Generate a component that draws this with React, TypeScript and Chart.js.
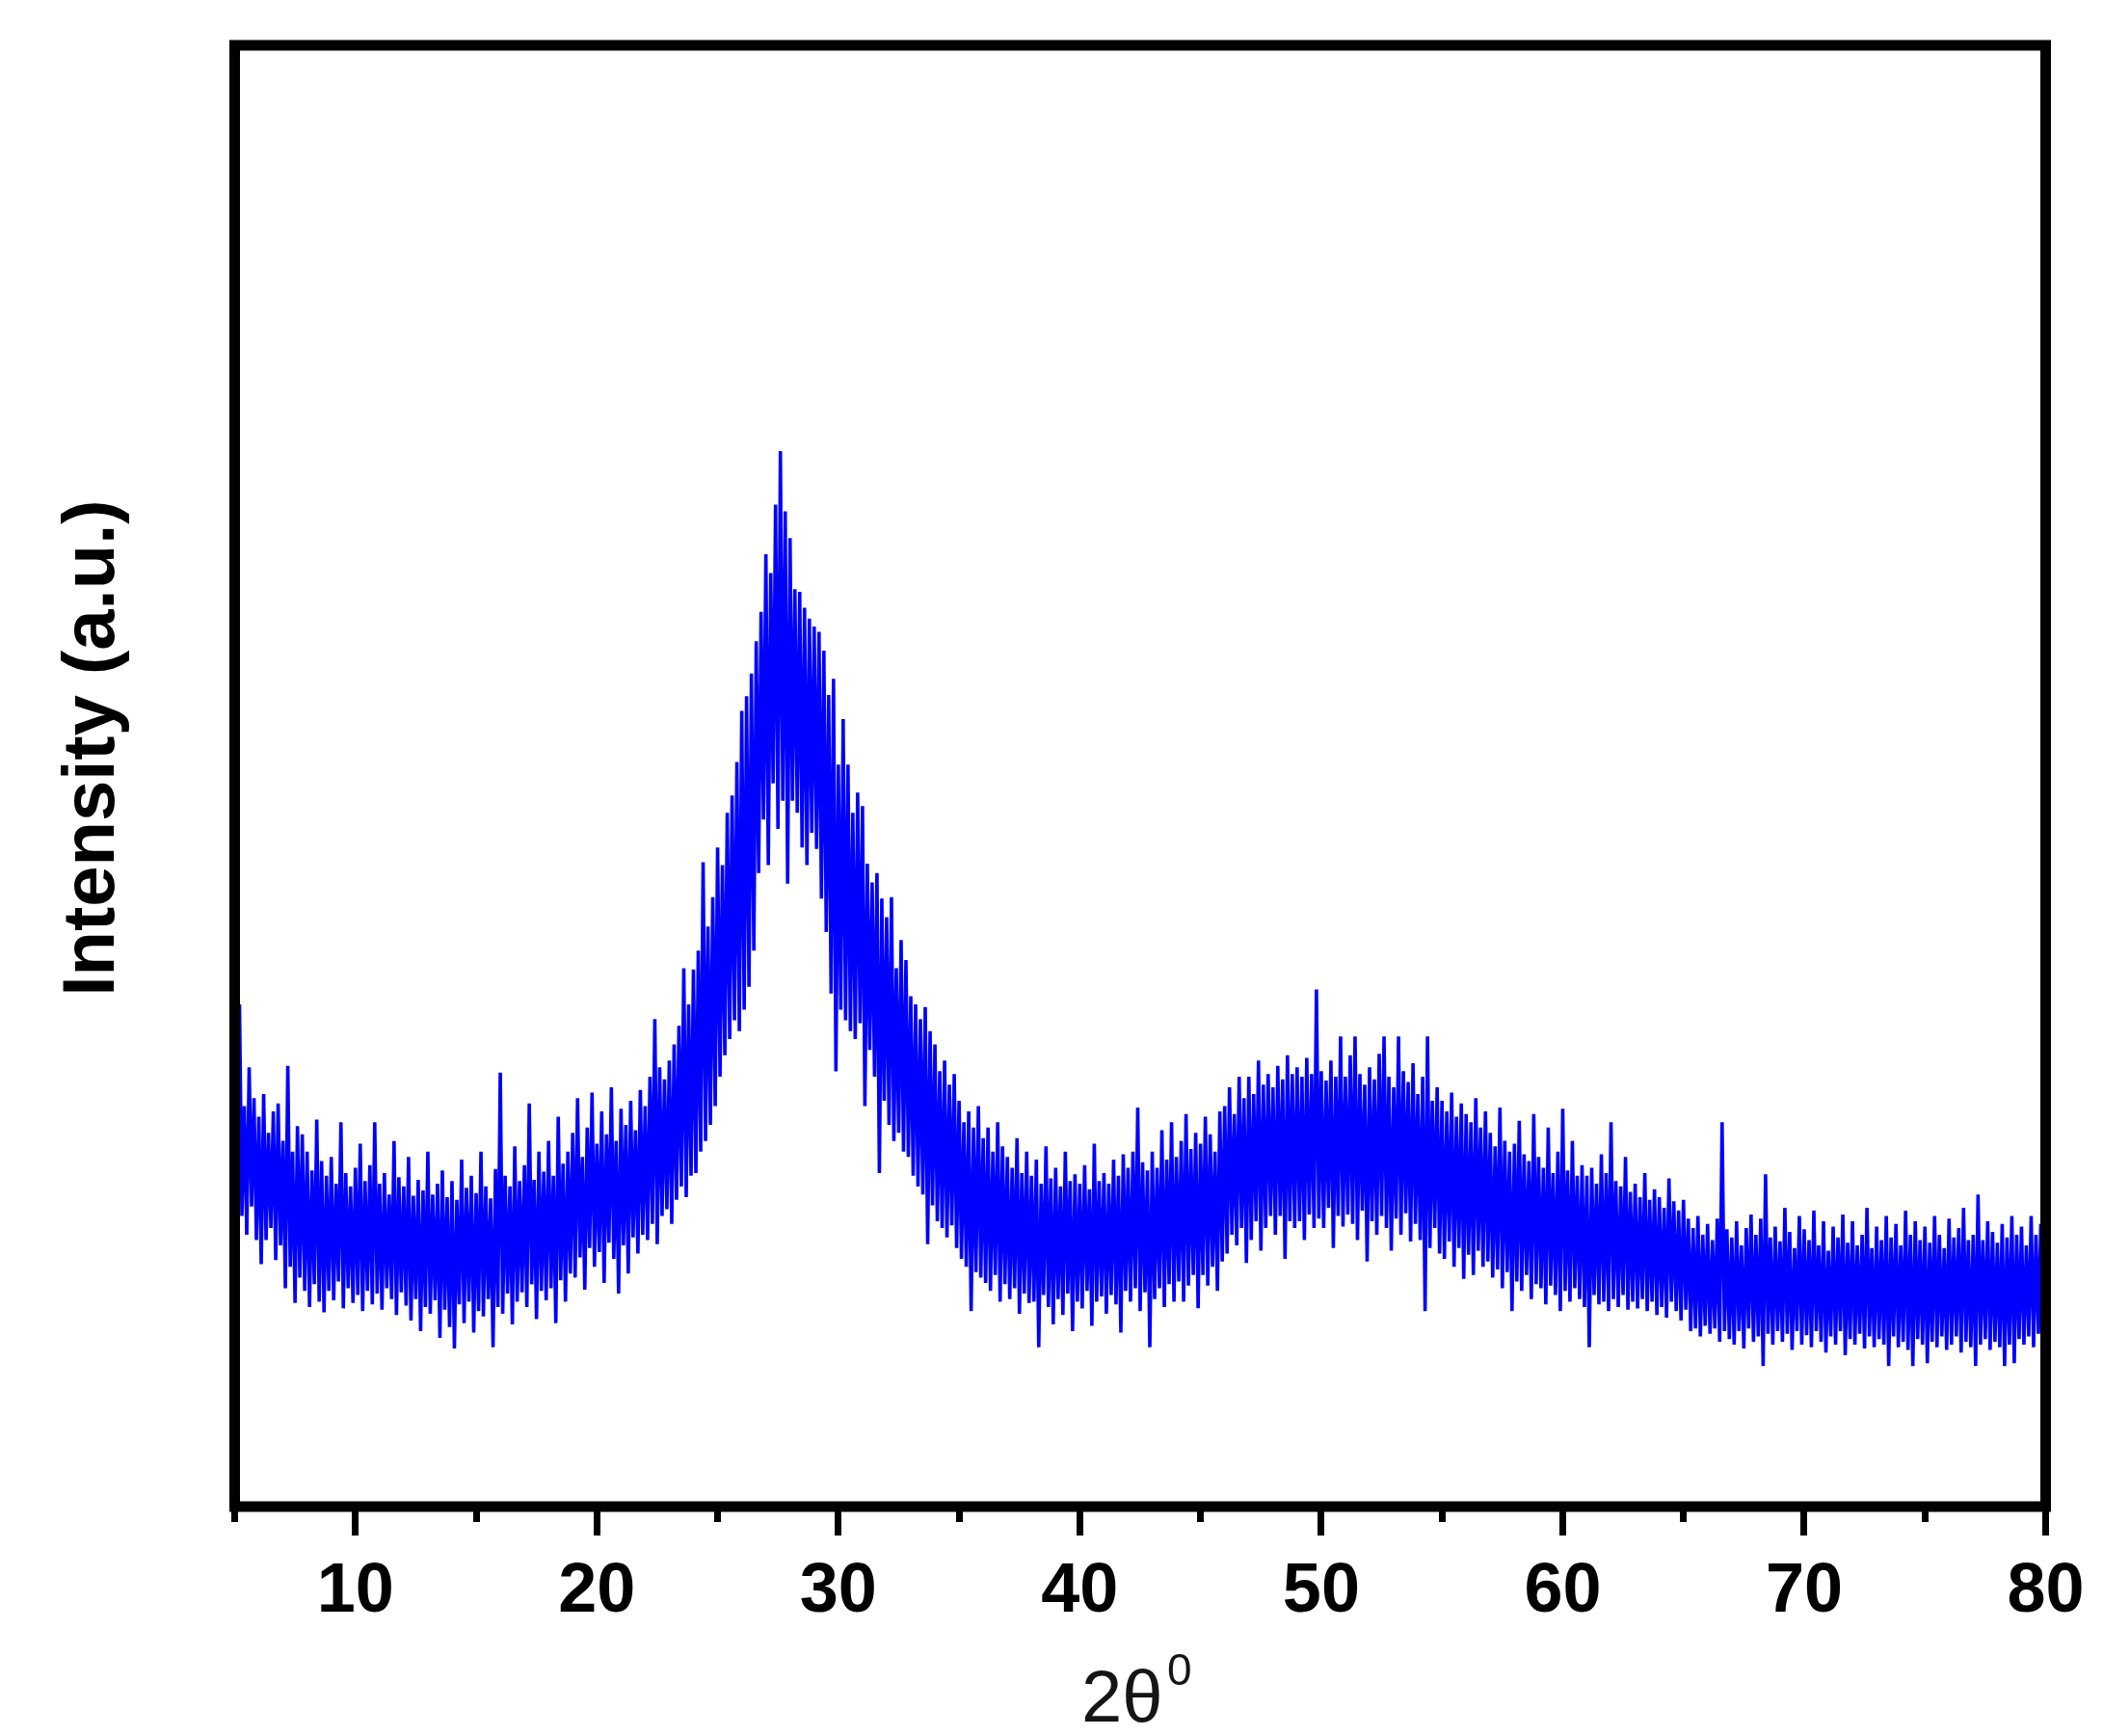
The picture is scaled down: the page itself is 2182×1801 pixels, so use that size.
import React, { useEffect, useRef } from "react";
import { Chart, registerables } from "chart.js";

Chart.register(...registerables);

// ---- data ----
const TWO_THETA_START = 5; // first scan angle (degrees)
const TWO_THETA_STEP = 0.1; // scan step (degrees)

// intensity (a.u.) for 2θ = 5.0, 5.1, ... 80.0 ; one row per degree
const INTENSITY: number[] = [
  300, 180, 372, 214, 296, 200, 325, 221, 302, 196, // 5
  288, 178, 305, 196, 276, 205, 292, 181, 298, 192, // 6
  270, 160, 326, 176, 262, 149, 281, 168, 275, 158, // 7
  262, 146, 248, 163, 286, 150, 255, 142, 244, 158, // 8
  258, 151, 238, 165, 284, 145, 246, 160, 236, 149, // 9
  250, 155, 268, 143, 240, 158, 252, 148, 284, 156, // 10
  238, 144, 246, 160, 230, 152, 270, 140, 243, 157, // 11
  236, 147, 258, 136, 229, 152, 241, 128, 233, 146, // 12
  262, 141, 230, 151, 238, 123, 248, 144, 228, 131, // 13
  240, 115, 226, 148, 256, 134, 235, 150, 244, 127, // 14
  231, 143, 262, 139, 236, 152, 227, 116, 249, 146, // 15
  321, 141, 244, 156, 236, 133, 266, 150, 240, 157, // 16
  252, 146, 298, 163, 241, 137, 262, 158, 247, 151, // 17
  270, 160, 244, 134, 288, 166, 253, 150, 262, 171, // 18
  276, 168, 302, 183, 258, 159, 280, 190, 306, 176, // 19
  268, 187, 292, 164, 275, 194, 310, 182, 270, 156, // 20
  294, 192, 282, 171, 300, 198, 278, 186, 308, 200, // 21
  296, 196, 318, 208, 361, 193, 325, 214, 316, 219, // 22
  330, 208, 342, 226, 356, 236, 399, 228, 372, 244, // 23
  398, 246, 412, 262, 478, 270, 430, 282, 452, 296, // 24
  489, 318, 476, 334, 515, 346, 528, 360, 553, 352, // 25
  591, 368, 602, 385, 619, 412, 643, 470, 665, 510, // 26
  708, 476, 694, 537, 745, 503, 785, 524, 740, 462, // 27
  720, 524, 682, 515, 680, 489, 668, 476, 660, 500, // 28
  654, 488, 650, 451, 636, 426, 603, 380, 615, 322, // 29
  551, 368, 585, 360, 551, 352, 515, 346, 530, 358, // 30
  520, 296, 477, 338, 463, 318, 470, 246, 451, 300, // 31
  437, 282, 452, 270, 399, 276, 420, 262, 405, 258, // 32
  378, 244, 372, 236, 361, 230, 370, 193, 352, 222, // 33
  342, 210, 322, 205, 330, 198, 312, 207, 320, 190, // 34
  300, 182, 284, 176, 292, 143, 280, 172, 296, 168, // 35
  272, 164, 280, 158, 262, 170, 284, 150, 266, 163, // 36
  258, 152, 250, 160, 272, 141, 246, 156, 262, 149, // 37
  244, 150, 256, 116, 238, 155, 266, 146, 242, 133, // 38
  250, 152, 236, 140, 262, 156, 240, 128, 245, 150, // 39
  238, 145, 252, 158, 234, 132, 268, 150, 240, 154, // 40
  246, 141, 238, 155, 256, 148, 244, 127, 260, 158, // 41
  250, 150, 262, 160, 295, 143, 254, 157, 248, 116, // 42
  262, 152, 250, 160, 278, 146, 256, 163, 284, 150, // 43
  258, 165, 270, 150, 290, 162, 264, 170, 276, 145, // 44
  268, 170, 288, 162, 275, 176, 262, 158, 292, 180, // 45
  296, 186, 310, 200, 290, 192, 318, 205, 302, 179, // 46
  318, 196, 305, 210, 330, 188, 312, 205, 320, 214, // 47
  310, 200, 326, 214, 316, 182, 334, 210, 320, 205, // 48
  325, 210, 318, 196, 332, 215, 320, 205, 383, 212, // 49
  322, 205, 315, 220, 330, 190, 318, 214, 348, 206, // 50
  318, 215, 334, 208, 348, 196, 320, 218, 312, 180, // 51
  325, 210, 316, 200, 335, 214, 348, 205, 318, 188, // 52
  310, 212, 348, 200, 322, 216, 314, 195, 328, 208, // 53
  305, 196, 318, 143, 348, 190, 300, 205, 310, 186, // 54
  300, 182, 292, 195, 306, 176, 288, 190, 298, 167, // 55
  290, 185, 284, 170, 302, 188, 280, 176, 292, 180, // 56
  276, 168, 266, 174, 295, 160, 270, 172, 262, 143, // 57
  268, 165, 285, 158, 260, 170, 255, 152, 290, 163, // 58
  258, 160, 250, 148, 280, 162, 246, 155, 262, 143, // 59
  294, 158, 248, 150, 270, 160, 244, 152, 252, 146, // 60
  244, 116, 250, 155, 238, 148, 260, 150, 246, 143, // 61
  284, 152, 240, 146, 236, 155, 258, 144, 232, 150, // 62
  238, 145, 228, 152, 246, 143, 226, 150, 234, 140, // 63
  228, 146, 220, 138, 242, 150, 225, 143, 218, 136, // 64
  226, 144, 212, 128, 205, 130, 214, 124, 200, 132, // 65
  208, 126, 196, 130, 212, 120, 284, 128, 204, 122, // 66
  198, 118, 210, 128, 192, 115, 205, 130, 215, 120, // 67
  200, 124, 212, 102, 245, 126, 198, 118, 206, 128, // 68
  195, 120, 220, 126, 202, 114, 190, 128, 214, 118, // 69
  204, 125, 196, 116, 218, 128, 192, 120, 210, 112, // 70
  188, 124, 206, 118, 198, 128, 215, 110, 194, 122, // 71
  210, 118, 192, 126, 200, 115, 220, 124, 190, 116, // 72
  206, 122, 196, 118, 214, 102, 198, 124, 208, 116, // 73
  192, 120, 218, 114, 200, 102, 210, 122, 196, 118, // 74
  206, 104, 194, 120, 214, 116, 200, 124, 190, 114, // 75
  212, 118, 198, 124, 205, 112, 220, 120, 196, 116, // 76
  200, 102, 230, 118, 196, 122, 210, 114, 202, 120, // 77
  194, 116, 208, 102, 198, 118, 214, 104, 200, 122, // 78
  206, 118, 192, 124, 214, 116, 200, 126, 208, 128, // 79
  195, // 80
];

const X_MIN = 5;
const X_MAX = 80;
const MAJOR_TICKS = [10, 20, 30, 40, 50, 60, 70, 80];
const MINOR_TICKS = [5, 15, 25, 35, 45, 55, 65, 75];
const Y_MIN = -3;
const Y_MAX = 1088;
const X_TITLE = "2θ";
const X_TITLE_SUP = "0";
const Y_TITLE = "Intensity (a.u.)";

// ---- layout / style ----
const W = 2182;
const H = 1801;
const AREA = { left: 243.5, top: 47, right: 2122.5, bottom: 1563 };
const FONT = "'Liberation Sans', Arial, Helvetica, sans-serif";
const LINE_COLOR = "#0000ff";

const framePlugin = {
  id: "frameAndTitles",
  afterDraw(chart: any) {
    const { ctx, chartArea } = chart;
    const { left, top, right, bottom } = chartArea;
    ctx.save();
    // frame
    ctx.strokeStyle = "#000";
    ctx.lineWidth = 11;
    ctx.lineJoin = "miter";
    ctx.strokeRect(left, top, right - left, bottom - top);

    // y title
    ctx.fillStyle = "#000";
    ctx.font = `bold 76px ${FONT}`;
    ctx.textAlign = "center";
    ctx.textBaseline = "alphabetic";
    ctx.save();
    ctx.translate(118, 776);
    ctx.rotate(-Math.PI / 2);
    ctx.fillText(Y_TITLE, 0, 0);
    ctx.restore();

    // x title with superscript
    ctx.fillStyle = "#151515";
    ctx.textAlign = "left";
    ctx.font = `76px ${FONT}`;
    ctx.fillText(X_TITLE, 1122, 1786);
    ctx.font = `46px ${FONT}`;
    ctx.fillText(X_TITLE_SUP, 1211, 1748);

    ctx.restore();
  },
};

export default function App() {
  const canvasRef = useRef<HTMLCanvasElement | null>(null);

  useEffect(() => {
    const canvas = canvasRef.current;
    if (!canvas) return;
    const points = INTENSITY.map((y, i) => ({
      x: +(TWO_THETA_START + i * TWO_THETA_STEP).toFixed(2),
      y,
    }));

    const chart = new Chart(canvas, {
      type: "line",
      data: {
        datasets: [
          {
            data: points,
            borderColor: LINE_COLOR,
            backgroundColor: LINE_COLOR,
            borderWidth: 3.6,
            pointRadius: 0,
            tension: 0,
            fill: false,
            borderJoinStyle: "bevel",
            xAxisID: "x",
            yAxisID: "y",
          },
        ],
      },
      options: {
        animation: false,
        responsive: false,
        devicePixelRatio: 1,
        events: [],
        layout: {
          padding: {
            left: AREA.left,
            top: AREA.top,
            right: W - AREA.right,
            bottom: 0,
          },
        },
        plugins: {
          legend: { display: false },
          tooltip: { enabled: false },
          title: { display: false },
        },
        scales: {
          xMinor: {
            type: "linear",
            position: "bottom",
            weight: 0,
            min: X_MIN,
            max: X_MAX,
            afterBuildTicks: (scale: any) => {
              scale.ticks = MINOR_TICKS.map((v) => ({ value: v }));
            },
            afterFit: (scale: any) => {
              scale.height = 0;
            },
            grid: {
              drawOnChartArea: false,
              drawTicks: true,
              tickLength: 16,
              tickWidth: 7,
              tickColor: "#000",
            },
            border: { display: false },
            ticks: { display: false },
          },
          x: {
            type: "linear",
            position: "bottom",
            weight: 1,
            min: X_MIN,
            max: X_MAX,
            afterBuildTicks: (scale: any) => {
              scale.ticks = MAJOR_TICKS.map((v) => ({ value: v }));
            },
            afterFit: (scale: any) => {
              scale.height = H - AREA.bottom;
            },
            grid: {
              drawOnChartArea: false,
              drawTicks: true,
              tickLength: 30,
              tickWidth: 7,
              tickColor: "#000",
            },
            border: { display: false },
            ticks: {
              autoSkip: false,
              maxRotation: 0,
              minRotation: 0,
              padding: 16,
              color: "#000",
              font: { family: FONT, size: 72, weight: "bold" },
              callback: (v: any) => String(v),
            },
          },
          y: {
            type: "linear",
            min: Y_MIN,
            max: Y_MAX,
            display: false,
          },
        },
      },
      plugins: [framePlugin],
    } as any);

    return () => chart.destroy();
  }, []);

  return (
    <div style={{ position: "absolute", left: 0, top: 0, width: W, height: H, background: "#fff" }}>
      <canvas ref={canvasRef} width={W} height={H} style={{ display: "block", width: W, height: H }} />
    </div>
  );
}
